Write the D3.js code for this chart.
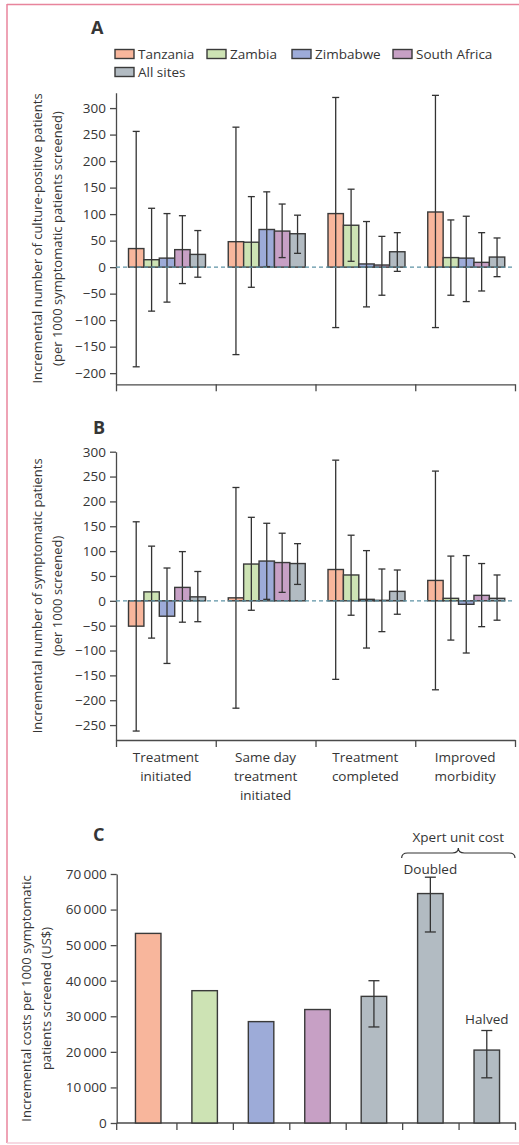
<!DOCTYPE html>
<html>
<head>
<meta charset="utf-8">
<script src="https://cdn.jsdelivr.net/npm/d3@7"></script>
<style>
  body { margin: 0; background: #fff; }
  text { font-family: "Open Sans", "Noto Sans", sans-serif; fill: #353535; }
</style>
</head>
<body>
<div id="chart"></div>
<script>
// Data
const categories = ["Treatment initiated", "Same day treatment initiated", "Treatment completed", "Improved morbidity"]
const categoryLines = [["Treatment", "initiated"], ["Same day", "treatment", "initiated"], ["Treatment", "completed"], ["Improved", "morbidity"]]
const sites = ["Tanzania", "Zambia", "Zimbabwe", "South Africa", "All sites"]
const siteColors = ["#f8b69c", "#cde3b4", "#9dabd8", "#c7a0c5", "#b2bbc2"]

// panel A: culture-positive patients per 1000 screened (rows = categories, cols = sites)
const cultureValues = [[35, 14, 17, 33, 24], [48, 47, 71, 68, 63], [101, 79, 6, 4, 29], [104, 18, 17, 9, 19]]
const cultureLow = [[-188, -83, -66, -31, -19], [-165, -38, 1, 18, 26], [-114, 11, -75, -53, -8], [-114, -53, -65, -45, -18]]
const cultureHigh = [[256, 111, 101, 97, 69], [264, 133, 142, 119, 98], [320, 147, 86, 58, 65], [324, 89, 96, 65, 55]]
const cultureTicks = [-200, -150, -100, -50, 0, 50, 100, 150, 200, 250, 300]

// panel B: symptomatic patients per 1000 screened
const symptValues = [[-51, 18, -31, 27, 8], [6, 74, 80, 77, 75], [63, 52, 3, 1, 19], [41, 5, -7, 11, 5]]
const symptLow = [[-262, -75, -126, -43, -42], [-216, -19, 3, 17, 33], [-158, -29, -95, -62, -27], [-179, -79, -105, -52, -39]]
const symptHigh = [[159, 110, 66, 99, 59], [228, 168, 156, 136, 115], [283, 132, 101, 64, 62], [261, 90, 91, 75, 52]]
const symptTicks = [-250, -200, -150, -100, -50, 0, 50, 100, 150, 200, 250, 300]

// panel C: incremental costs (US$)
const costBars = ["Tanzania", "Zambia", "Zimbabwe", "South Africa", "All sites", "Doubled", "Halved"]
const costValues = [53300, 37200, 28500, 31900, 35600, 64500, 20500]
const costLow = [null, null, null, null, 27000, 53700, 12700]
const costHigh = [null, null, null, null, 40000, 69100, 26000]
const costColors = ["#f8b69c", "#cde3b4", "#9dabd8", "#c7a0c5", "#b2bbc2", "#b2bbc2", "#b2bbc2"]
const costTicks = [0, 10000, 20000, 30000, 40000, 50000, 60000, 70000]

function draw() {
  const width = 519, height = 1145
  const svg = d3.select('#chart').append('svg')
    .attr('width', width)
    .attr('height', height)

  // frame
  svg.append('line').attr('x1', 7).attr('x2', width).attr('y1', 4.5).attr('y2', 4.5)
    .attr('stroke', '#e8849c').attr('stroke-width', 1.5)
  svg.append('line').attr('x1', 7).attr('x2', 7).attr('y1', 4).attr('y2', 1143)
    .attr('stroke', '#e8849c').attr('stroke-width', 1.5)
  svg.append('line').attr('x1', 7).attr('x2', width).attr('y1', 1143).attr('y2', 1143)
    .attr('stroke', '#f5cdd8').attr('stroke-width', 1.5)

  const axisColor = '#4a4a4a'
  const barStroke = '#3a3a3a'

  function styleAxis(g) {
    g.selectAll('path, line').attr('stroke', axisColor).attr('stroke-width', 1.3)
    g.selectAll('text').attr('fill', '#353535').style('font-size', '13.5px')
      .style('font-family', '"Open Sans", sans-serif')
  }

  function groupedPanel(opts) {
    const x = d3.scaleBand().domain(categories).range([116, 515])
    const xInner = d3.scaleBand().domain(sites).range([12.5, 89.5])
    const y = d3.scaleLinear().domain(opts.domain).range([opts.bottom, opts.top])

    // y axis
    const yAxis = svg.append('g')
      .attr('transform', 'translate(116,0)')
      .call(d3.axisLeft(y).tickValues(opts.ticks).tickSize(6).tickSizeOuter(0).tickPadding(4))
    styleAxis(yAxis)

    // x axis with ticks at band boundaries
    const xb = d3.scaleLinear().domain([0, categories.length]).range(x.range())
    const xAxis = svg.append('g')
      .attr('transform', `translate(0,${opts.bottom})`)
      .call(d3.axisBottom(xb).tickValues(d3.range(categories.length + 1)).tickFormat('').tickSize(7).tickSizeOuter(0))
    styleAxis(xAxis)

    const rows = []
    categories.forEach((c, i) => sites.forEach((s, j) => rows.push({
      cat: c, site: s, j, v: opts.values[i][j], lo: opts.low[i][j], hi: opts.high[i][j]
    })))

    const g = svg.append('g')
    g.selectAll('rect.bar').data(rows).join('rect')
      .attr('class', 'bar')
      .attr('x', d => x(d.cat) + xInner(d.site))
      .attr('width', xInner.bandwidth())
      .attr('y', d => y(Math.max(0, d.v)))
      .attr('height', d => Math.abs(y(d.v) - y(0)))
      .attr('fill', d => siteColors[d.j])
      .attr('stroke', barStroke)
      .attr('stroke-width', 1.4)

    // zero line
    svg.append('line')
      .attr('x1', 116).attr('x2', 515)
      .attr('y1', y(0)).attr('y2', y(0))
      .attr('stroke', '#5e93a5').attr('stroke-width', 1.2)
      .attr('stroke-dasharray', '4 3')

    const cx = d => x(d.cat) + xInner(d.site) + xInner.bandwidth() / 2
    const err = g.selectAll('g.err').data(rows).join('g').attr('class', 'err')
      .attr('stroke', '#333').attr('stroke-width', 1.3)
    err.append('line').attr('x1', cx).attr('x2', cx).attr('y1', d => y(d.lo)).attr('y2', d => y(d.hi))
    err.append('line').attr('x1', d => cx(d) - 3.5).attr('x2', d => cx(d) + 3.5).attr('y1', d => y(d.lo)).attr('y2', d => y(d.lo))
    err.append('line').attr('x1', d => cx(d) - 3.5).attr('x2', d => cx(d) + 3.5).attr('y1', d => y(d.hi)).attr('y2', d => y(d.hi))

    // panel letter
    svg.append('text').attr('x', opts.letterX).attr('y', opts.letterY)
      .text(opts.letter).style('font-size', '18px').style('font-weight', 'bold').attr('fill', '#222')

    // y label
    const cy = (opts.top + opts.bottom) / 2
    opts.ylabel.forEach((t, k) => {
      svg.append('text')
        .attr('transform', `translate(${42 + k * 20},${cy}) rotate(-90)`)
        .attr('text-anchor', 'middle')
        .style('font-size', '13px')
        .text(t)
    })

    if (opts.categoryLabels) {
      categoryLines.forEach((lines, i) => {
        lines.forEach((t, k) => {
          svg.append('text')
            .attr('x', x(categories[i]) + x.bandwidth() / 2)
            .attr('y', opts.bottom + 22 + k * 19)
            .attr('text-anchor', 'middle')
            .style('font-size', '13.5px')
            .text(t)
        })
      })
    }
  }

  groupedPanel({
    letter: 'A', letterX: 91, letterY: 34,
    domain: [-221, 329], top: 92.7, bottom: 384.3,
    ticks: cultureTicks, values: cultureValues, low: cultureLow, high: cultureHigh,
    ylabel: ['Incremental number of culture-positive patients', '(per 1000 symptomatic patients screened)']
  })

  groupedPanel({
    letter: 'B', letterX: 93, letterY: 434,
    domain: [-280, 300], top: 451.7, bottom: 740,
    ticks: symptTicks, values: symptValues, low: symptLow, high: symptHigh,
    ylabel: ['Incremental number of symptomatic patients', '(per 1000 screened)'],
    categoryLabels: true
  })

  // Legend
  const legendPos = [[115, 54], [207, 54], [292, 54], [393, 54], [115, 72]]
  sites.forEach((s, j) => {
    const [lx, ly] = legendPos[j]
    svg.append('rect').attr('x', lx).attr('y', ly - 4.5).attr('width', 19).attr('height', 9)
      .attr('fill', siteColors[j]).attr('stroke', barStroke).attr('stroke-width', 1.4)
    svg.append('text').attr('x', lx + 23).attr('y', ly + 5).style('font-size', '13.5px').text(s)
  })

  // Panel C
  const xc = d3.scaleBand().domain(costBars).range([120, 515])
  const yc = d3.scaleLinear().domain([0, 70000]).range([1123, 874])
  const barW = 25.5

  const fmt = d => d3.format(',')(d).replace(',', '\u2009')
  const ycAxis = svg.append('g').attr('transform', 'translate(116.7,0)')
    .call(d3.axisLeft(yc).tickValues(costTicks).tickFormat(fmt).tickSize(6).tickSizeOuter(0).tickPadding(4))
  styleAxis(ycAxis)

  const xcb = d3.scaleLinear().domain([0, costBars.length]).range(xc.range())
  const xcAxis = svg.append('g').attr('transform', 'translate(0,1123)')
    .call(d3.axisBottom(xcb).tickValues(d3.range(1, costBars.length + 1)).tickFormat('').tickSize(7).tickSizeOuter(0))
  styleAxis(xcAxis)
  xcAxis.select('.domain').attr('d', `M116.7,0H${xc.range()[1] + 1}`)
  xcAxis.append('line').attr('x1', 116.7).attr('x2', 116.7).attr('y1', 0).attr('y2', 7)
    .attr('stroke', axisColor).attr('stroke-width', 1.3)

  const costRows = costBars.map((b, i) => ({ b, i, v: costValues[i], lo: costLow[i], hi: costHigh[i] }))
  const ccx = d => xc(d.b) + xc.bandwidth() / 2
  svg.append('g').selectAll('rect').data(costRows).join('rect')
    .attr('x', d => ccx(d) - barW / 2)
    .attr('width', barW)
    .attr('y', d => yc(d.v))
    .attr('height', d => yc(0) - yc(d.v))
    .attr('fill', d => costColors[d.i])
    .attr('stroke', barStroke)
    .attr('stroke-width', 1.4)

  const cerr = svg.append('g').selectAll('g').data(costRows.filter(d => d.lo != null)).join('g')
    .attr('stroke', '#333').attr('stroke-width', 1.3)
  cerr.append('line').attr('x1', ccx).attr('x2', ccx).attr('y1', d => yc(d.lo)).attr('y2', d => yc(d.hi))
  cerr.append('line').attr('x1', d => ccx(d) - 5.5).attr('x2', d => ccx(d) + 5.5).attr('y1', d => yc(d.lo)).attr('y2', d => yc(d.lo))
  cerr.append('line').attr('x1', d => ccx(d) - 5.5).attr('x2', d => ccx(d) + 5.5).attr('y1', d => yc(d.hi)).attr('y2', d => yc(d.hi))

  svg.append('text').attr('x', 93).attr('y', 841)
    .text('C').style('font-size', '18px').style('font-weight', 'bold').attr('fill', '#222')

  const ccy = (874 + 1123) / 2
  const cLabel = ['Incremental costs per 1000 symptomatic', 'patients screened (US$)']
  cLabel.forEach((t, k) => {
    svg.append('text')
      .attr('transform', `translate(${31 + k * 20},${ccy}) rotate(-90)`)
      .attr('text-anchor', 'middle')
      .style('font-size', '13px')
      .text(t)
  })

  // bar annotations
  svg.append('text').attr('x', ccx(costRows[5])).attr('y', 874)
    .attr('text-anchor', 'middle').style('font-size', '13.5px').text('Doubled')
  svg.append('text').attr('x', ccx(costRows[6])).attr('y', 1024)
    .attr('text-anchor', 'middle').style('font-size', '13.5px').text('Halved')

  // brace over the Xpert sensitivity bars
  const bx0 = xc('Doubled') - 0.5, bx1 = xc('Halved') + xc.bandwidth()
  const bm = (bx0 + bx1) / 2, by = 853
  const brace = `M${bx0},${by + 5} Q${bx0},${by} ${bx0 + 6},${by} L${bm - 6},${by} Q${bm},${by} ${bm},${by - 5} ` +
    `Q${bm},${by} ${bm + 6},${by} L${bx1 - 6},${by} Q${bx1},${by} ${bx1},${by + 5}`
  svg.append('path').attr('d', brace).attr('fill', 'none').attr('stroke', '#333').attr('stroke-width', 1.2)
  svg.append('text').attr('x', bm).attr('y', 842)
    .attr('text-anchor', 'middle').style('font-size', '13.5px').text('Xpert unit cost')
}

draw()
</script>
</body>
</html>
